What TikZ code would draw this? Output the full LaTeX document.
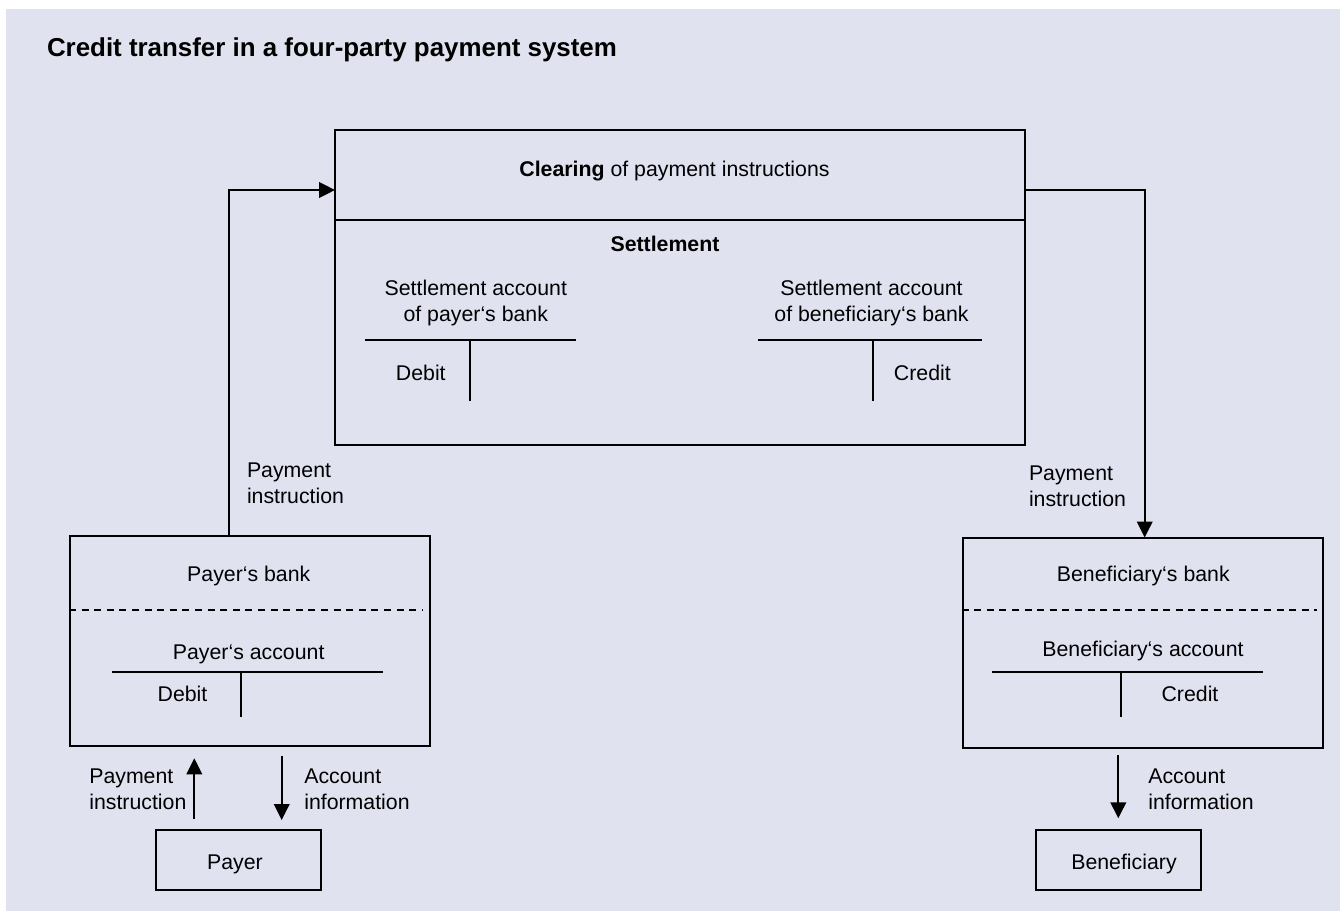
\documentclass[tikz,border=0pt]{standalone}
\usepackage{fontspec}
\setmainfont{Liberation Sans}
\usetikzlibrary{arrows.meta,positioning}
\definecolor{bgblue}{RGB}{224,226,240}
% T-account: left x, right x, stem x, top y, stem end y
\newcommand\drawtaccount[5]{\draw[konto] (#1,#4) -- (#2,#4) (#3,#4) -- (#3,#5);}

\begin{document}
\begin{tikzpicture}[x=0.5pt,y=-0.5pt,>={Triangle[length=8pt,width=7.8pt]},line width=1pt,
		every node/.style={font=\fontsize{10.65pt}{12.8pt}\selectfont}]
		\tikzstyle{box}=[rectangle,draw=black,line width=1pt,inner sep=0pt]
		\tikzstyle{txt}=[inner sep=0pt,anchor=base]
		\tikzstyle{lbl}=[inner sep=0pt,anchor=base west,align=left]
		\tikzstyle{konto}=[line width=1pt]
		\tikzstyle{trenn}=[line width=0.8pt,dash pattern=on 3.5pt off 2.8pt]

		\useasboundingbox (0,0) rectangle (1340,911);
		\fill[bgblue] (6,9) rectangle (1340,911);

		\node[txt,anchor=base west,font=\fontsize{12.95pt}{15pt}\selectfont\bfseries] (title) at (46,56.7) {Credit transfer in a four-party payment system};

		% clearing and settlement
		\node[box,minimum width=345pt,minimum height=157.5pt] (clearing) at (680,287.5) {};
		\coordinate (clear_sep) at (335,220);
		\draw (clear_sep) -- (clear_sep -| clearing.east);
		\node[txt] (clear_text) at (674.5,176) {\textbf{Clearing} of payment instructions};
		\node[txt] (settle_text) at (665,251) {\textbf{Settlement}};
		\node[txt,align=center] (sa_payer) at (475.8,321) {Settlement account\\of payer‘s bank};
		\node[txt,align=center] (sa_benef) at (871.5,321) {Settlement account\\of beneficiary‘s bank};
		\drawtaccount{364.7}{576}{470.3}{340.3}{401}
		\drawtaccount{758.4}{981.6}{872.7}{340.3}{401}
		\node[txt] (sa_debit) at (420.8,380) {Debit};
		\node[txt] (sa_credit) at (922.4,380.5) {Credit};

		% payer's bank
		\node[box,minimum width=180pt,minimum height=105pt] (payer_bank) at (250,641) {};
		\draw[trenn] (payer_bank.west |- 0,610) -- (423,610);
		\node[txt] (pb_text) at (248.8,581) {Payer‘s bank};
		\node[txt] (pa_text) at (248.7,659.3) {Payer‘s account};
		\drawtaccount{112.3}{383.3}{240.7}{671.7}{717.3}
		\node[txt] (pa_debit) at (182.5,701) {Debit};

		% beneficiary's bank
		\node[box,minimum width=180pt,minimum height=105pt] (benef_bank) at (1142.5,642.5) {};
		\draw[trenn] (benef_bank.west |- 0,610) -- (1317,610);
		\node[txt] (bb_text) at (1143.3,581) {Beneficiary‘s bank};
		\node[txt] (ba_text) at (1143,656.7) {Beneficiary‘s account};
		\drawtaccount{992.3}{1263.3}{1120.7}{671.7}{716.7}
		\node[txt] (ba_credit) at (1190,701) {Credit};

		% payer and beneficiary
		\node[box,minimum width=82.75pt,minimum height=30pt] (payer) at (238.25,859.5) {};
		\node[txt] (payer_text) at (235,869.3) {Payer};
		\node[box,minimum width=82.5pt,minimum height=30pt] (benef) at (1118,859.5) {};
		\node[txt] (benef_text) at (1124,869.3) {Beneficiary};

		% connectors
		\coordinate (pb_out) at (229,536);
		\coordinate (clear_in) at (335,190);
		\coordinate (clear_out) at (1025,190);
		\coordinate (bb_in) at (1144.7,537.5);
		\draw[->] (pb_out) |- (clear_in);
		\draw[->] (clear_out) -| (bb_in);
		\node[lbl] (lbl_pi1) at (246,503) {Payment\\instruction};
		\node[lbl] (lbl_pi2) at (1028,506) {Payment\\instruction};

		\coordinate (payer_up) at (194.3,819);
		\coordinate (payer_up_end) at (194.3,758.3);
		\coordinate (payer_down) at (281.7,756);
		\coordinate (payer_down_end) at (281.7,820);
		\coordinate (benef_down) at (1118.3,755);
		\coordinate (benef_down_end) at (1118.3,818.3);
		\draw[->] (payer_up) -- (payer_up_end);
		\draw[->] (payer_down) -- (payer_down_end);
		\draw[->] (benef_down) -- (benef_down_end);
		\node[lbl] (lbl_pi3) at (88.3,809) {Payment\\instruction};
		\node[lbl] (lbl_ai1) at (303.3,809) {Account\\information};
		\node[lbl] (lbl_ai2) at (1147.3,809) {Account\\information};
	\end{tikzpicture}
\end{document}
